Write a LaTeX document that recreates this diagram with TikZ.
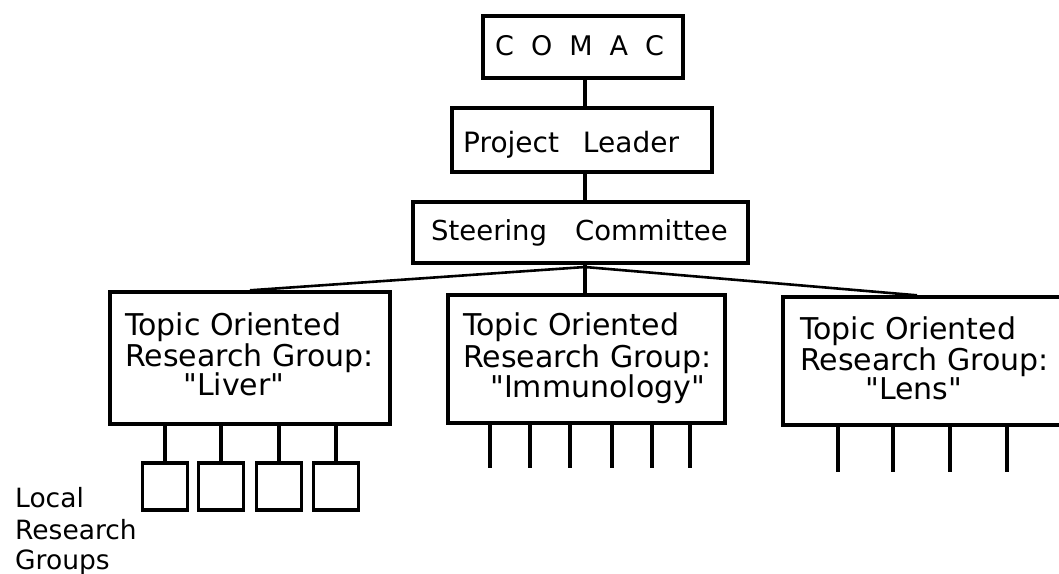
\documentclass[tikz,border=0pt]{standalone}
\usepackage{fontspec}
\setmainfont{DejaVu Sans}[Ligatures=TeXOff]
\begin{document}
\begin{tikzpicture}[x=1pt,y=-1pt,
  box/.style={draw=black,line width=3.4pt,inner sep=0pt,fill=none},
  conn/.style={draw=black,line width=3.4pt},
  slant/.style={draw=black,line width=2.6pt},
  lbl/.style={anchor=base west,inner sep=0pt,font=\fontsize{30}{34}\selectfont},
  small/.style={anchor=base west,inner sep=0pt,font=\fontsize{26.5}{30}\selectfont}]
\useasboundingbox[fill=white] (0,0) rectangle (1059,573);
% boxes
\node[box,minimum width=200pt,minimum height=62pt] (comac) at (583,47) {};
\node[box,minimum width=260pt,minimum height=64pt] (pl) at (582,140) {};
\node[box,minimum width=335pt,minimum height=61pt] (sc) at (580.5,232.5) {};
\node[box,minimum width=280pt,minimum height=132pt] (liver) at (250,358) {};
\node[box,minimum width=277pt,minimum height=128pt] (immu) at (586.5,359) {};
\node[box,minimum width=292pt,minimum height=128pt] (lens) at (929,361) {};
% texts
\node[lbl,font=\fontsize{27}{30}\selectfont] (tcomac) at (495,55) {C\hspace{17pt}O\hspace{17pt}M\hspace{17pt}A\hspace{17pt}C};
\node[lbl,font=\fontsize{28}{30}\selectfont] (tpl) at (463,152) {Project\hspace{24pt}Leader};
\node[lbl,font=\fontsize{27.5}{30}\selectfont] (tsc) at (431,240) {Steering\hspace{28pt}Committee};
\node[lbl] (tl1) at (125,335) {Topic Oriented};
\node[lbl] (tl2) at (125,366) {Research Group:};
\node[lbl] (tl3) at (183,395) {"Liver"};
\node[lbl] (tm1) at (463,335) {Topic Oriented};
\node[lbl] (tm2) at (463,367) {Research Group:};
\node[lbl] (tm3) at (490,397) {"Immunology"};
\node[lbl] (tr1) at (800,339) {Topic Oriented};
\node[lbl] (tr2) at (800,370) {Research Group:};
\node[lbl] (tr3) at (865,399) {"Lens"};
\node[small] (local) at (15,507) {Local};
\node[small] (lresearch) at (15,539) {Research};
\node[small] (lgroups) at (15,569) {Groups};
% vertical connectors
\draw[conn] (comac.south -| 585,0) -- (pl.north -| 585,0);
\draw[conn] (pl.south -| 585,0) -- (sc.north -| 585,0);
\draw[conn] (sc.south -| 585,0) -- (immu.north -| 585,0);
% slanted connectors
\coordinate (hub) at (585,267);
\draw[slant] (hub) -- (liver.north);
\draw[slant] (hub) -- ([xshift=-12pt]lens.north);
% local research group boxes
\foreach \i/\x in {1/165,2/221,3/279,4/336}{
  \node[box,minimum width=45pt,minimum height=47pt] (lg\i) at (\x,486.5) {};
  \draw[conn] (lg\i.north) -- (lg\i.north |- liver.south);
}
% immunology ticks
\foreach \i/\x in {1/490,2/530,3/570,4/612,5/652,6/690}{
  \coordinate (im\i) at (\x,468);
  \draw[conn] (im\i |- immu.south) -- (im\i);
}
% lens ticks
\foreach \i/\x in {1/838,2/893,3/950,4/1007}{
  \coordinate (le\i) at (\x,472);
  \draw[conn] (le\i |- lens.south) -- (le\i);
}
\end{tikzpicture}
\end{document}
